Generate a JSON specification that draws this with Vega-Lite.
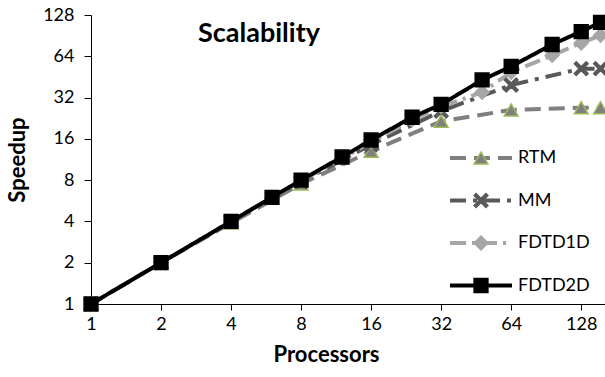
{
  "$schema": "https://vega.github.io/schema/vega-lite/v6.json",
  "autosize": {"type": "none"},
  "width": 514,
  "height": 289,
  "padding": {"left": 91, "top": 15, "right": 0, "bottom": 73},
  "background": "white",
  "title": {"text": "Scalability", "anchor": "start", "frame": "group", "font": "Lato", "fontSize": 27, "fontWeight": "bold", "color": "#000", "dx": 107, "dy": 46},
  "config": {
    "view": {"stroke": null},
    "font": "Lato",
    "legend": {"padding": 0, "labelFont": "Lato", "labelFontSize": 18, "labelColor": "#000", "labelLimit": 200}
  },
  "data": {"values": [
    {"series": "RTM", "p": 1, "s": 1}, {"series": "RTM", "p": 2, "s": 2}, {"series": "RTM", "p": 4, "s": 3.9}, {"series": "RTM", "p": 8, "s": 7.5}, {"series": "RTM", "p": 16, "s": 13}, {"series": "RTM", "p": 32, "s": 21.5}, {"series": "RTM", "p": 64, "s": 26}, {"series": "RTM", "p": 128, "s": 27}, {"series": "RTM", "p": 155, "s": 27},
    {"series": "MM", "p": 1, "s": 1}, {"series": "MM", "p": 2, "s": 2}, {"series": "MM", "p": 4, "s": 4}, {"series": "MM", "p": 8, "s": 7.8}, {"series": "MM", "p": 16, "s": 14.5}, {"series": "MM", "p": 32, "s": 25.5}, {"series": "MM", "p": 64, "s": 39.5}, {"series": "MM", "p": 128, "s": 52}, {"series": "MM", "p": 155, "s": 52},
    {"series": "FDTD1D", "p": 1, "s": 1}, {"series": "FDTD1D", "p": 2, "s": 2}, {"series": "FDTD1D", "p": 4, "s": 4}, {"series": "FDTD1D", "p": 6, "s": 6}, {"series": "FDTD1D", "p": 8, "s": 7.9}, {"series": "FDTD1D", "p": 12, "s": 11.5}, {"series": "FDTD1D", "p": 16, "s": 15.2}, {"series": "FDTD1D", "p": 24, "s": 22}, {"series": "FDTD1D", "p": 32, "s": 27.5}, {"series": "FDTD1D", "p": 48, "s": 35}, {"series": "FDTD1D", "p": 64, "s": 49}, {"series": "FDTD1D", "p": 96, "s": 65}, {"series": "FDTD1D", "p": 128, "s": 80}, {"series": "FDTD1D", "p": 155, "s": 91},
    {"series": "FDTD2D", "p": 1, "s": 1}, {"series": "FDTD2D", "p": 2, "s": 2}, {"series": "FDTD2D", "p": 4, "s": 4}, {"series": "FDTD2D", "p": 6, "s": 6}, {"series": "FDTD2D", "p": 8, "s": 8}, {"series": "FDTD2D", "p": 12, "s": 11.8}, {"series": "FDTD2D", "p": 16, "s": 15.7}, {"series": "FDTD2D", "p": 24, "s": 23}, {"series": "FDTD2D", "p": 32, "s": 28.5}, {"series": "FDTD2D", "p": 48, "s": 43}, {"series": "FDTD2D", "p": 64, "s": 54}, {"series": "FDTD2D", "p": 96, "s": 78}, {"series": "FDTD2D", "p": 128, "s": 97}, {"series": "FDTD2D", "p": 155, "s": 113}
  ]},
  "encoding": {
    "x": {"field": "p", "type": "quantitative",
      "scale": {"type": "log", "base": 2, "domain": [1, 162], "nice": false},
      "axis": {"values": [1, 2, 4, 8, 16, 32, 64, 128], "format": "d", "grid": false, "domainColor": "#000", "domainWidth": 1, "tickColor": "#000", "tickSize": 6, "labelPadding": 5, "labelFont": "Lato", "labelFontSize": 18, "labelColor": "#000", "labelFlush": false, "title": "Processors", "titleFont": "Lato", "titleFontSize": 22, "titleFontWeight": "bold", "titleColor": "#000", "titlePadding": 11, "titleX": 235}},
    "y": {"field": "s", "type": "quantitative",
      "scale": {"type": "log", "base": 2, "domain": [1, 128], "nice": false},
      "axis": {"values": [1, 2, 4, 8, 16, 32, 64, 128], "format": "d", "grid": false, "domainColor": "#000", "domainWidth": 1, "tickColor": "#000", "tickSize": 7, "labelPadding": 10, "labelFont": "Lato", "labelFontSize": 18, "labelColor": "#000", "labelFlush": false, "title": "Speedup", "titleFont": "Lato", "titleFontSize": 22, "titleFontWeight": "bold", "titleColor": "#000", "titlePadding": 13}}
  },
  "layer": [
    {
      "mark": {"type": "line", "strokeWidth": 4},
      "encoding": {
        "color": {"field": "series", "type": "nominal",
          "scale": {"domain": ["RTM", "MM", "FDTD1D", "FDTD2D"], "range": ["#7f7f7f", "#595959", "#a6a6a6", "#000000"]},
          "legend": {"orient": "none", "legendX": 357, "legendY": 134, "title": null, "symbolType": "stroke", "symbolSize": 3844, "symbolStrokeWidth": 4, "rowPadding": 24.5, "labelOffset": 4, "clipHeight": 18}},
        "strokeDash": {"field": "series", "type": "nominal",
          "scale": {"domain": ["RTM", "MM", "FDTD1D", "FDTD2D"], "range": [[16, 8], [16, 7, 4, 7], [16, 6, 3, 6], [1, 0]]},
          "legend": {"orient": "none", "legendX": 357, "legendY": 134, "title": null, "symbolType": "stroke", "symbolSize": 3844, "symbolStrokeWidth": 4, "rowPadding": 24.5, "labelOffset": 4, "clipHeight": 18}}
      }
    },
    {
      "mark": {"type": "point", "filled": true, "size": 190, "strokeWidth": 1.5, "opacity": 1},
      "encoding": {
        "shape": {"field": "series", "type": "nominal",
          "scale": {"domain": ["RTM", "MM", "FDTD1D", "FDTD2D", "_"], "range": ["triangle-up", "M-1,-0.72L-0.72,-1L0,-0.28L0.72,-1L1,-0.72L0.28,0L1,0.72L0.72,1L0,0.28L-0.72,1L-1,0.72L-0.28,0Z", "diamond", "square", "circle"]},
          "legend": {"orient": "none", "legendX": 381, "legendY": 134, "title": null, "values": ["RTM", "MM", "FDTD1D", "FDTD2D"], "symbolSize": 190, "symbolStrokeWidth": 1.5, "rowPadding": 24.5, "labelExpr": "''", "clipHeight": 18}},
        "fill": {"field": "series", "type": "nominal",
          "scale": {"domain": ["RTM", "MM", "FDTD1D", "FDTD2D", "_"], "range": ["#7f7f7f", "#595959", "#a6a6a6", "#000000", "#000000"]},
          "legend": {"orient": "none", "legendX": 381, "legendY": 134, "title": null, "values": ["RTM", "MM", "FDTD1D", "FDTD2D"], "symbolSize": 190, "symbolStrokeWidth": 1.5, "rowPadding": 24.5, "labelExpr": "''", "clipHeight": 18}},
        "stroke": {"field": "series", "type": "nominal",
          "scale": {"domain": ["RTM", "MM", "FDTD1D", "FDTD2D", "_"], "range": ["#9bbb59", "#595959", "#a6a6a6", "#000000", "#000000"]},
          "legend": {"orient": "none", "legendX": 381, "legendY": 134, "title": null, "values": ["RTM", "MM", "FDTD1D", "FDTD2D"], "symbolSize": 190, "symbolStrokeWidth": 1.5, "rowPadding": 24.5, "labelExpr": "''", "clipHeight": 18}}
      }
    }
  ]
}
